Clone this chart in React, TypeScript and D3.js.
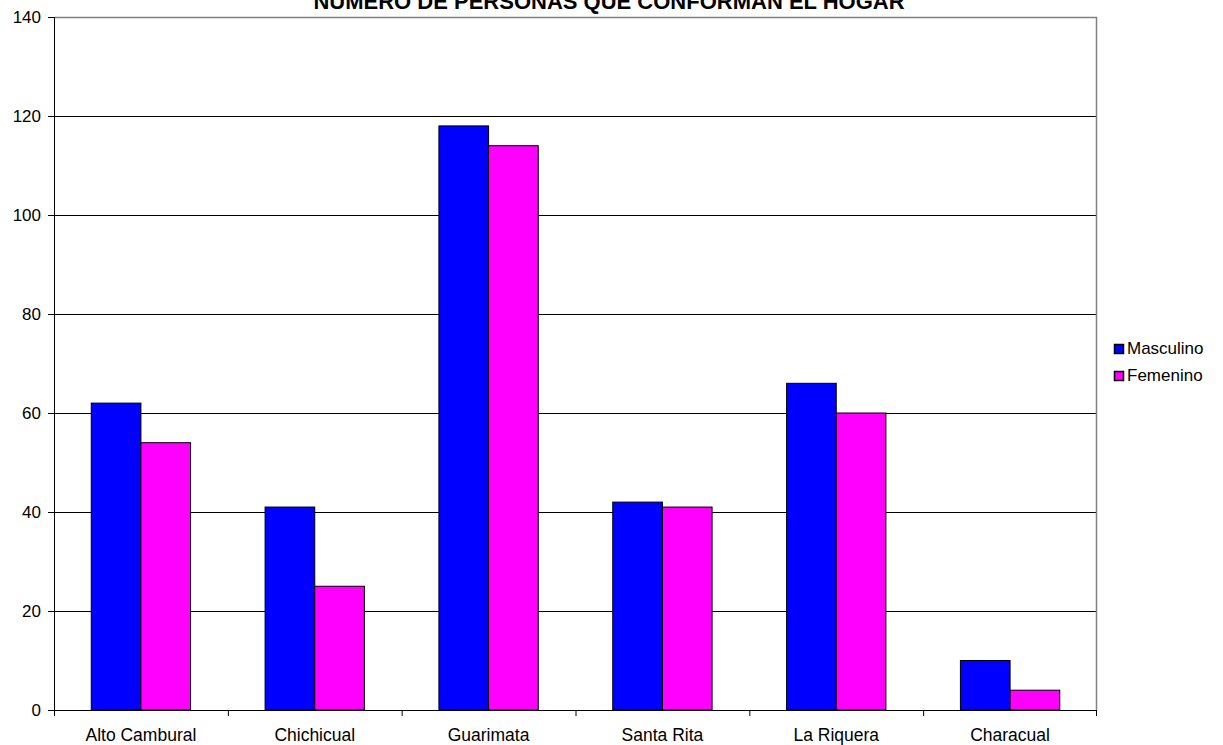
import React from "react";
import * as d3 from "d3";

const categories = ["Alto Cambural", "Chichicual", "Guarimata", "Santa Rita", "La Riquera", "Characual"];
const seriesNames = ["Masculino", "Femenino"];
const masculino = [62, 41, 118, 42, 66, 10];
const femenino = [54, 25, 114, 41, 60, 4];
const yTicks = [0, 20, 40, 60, 80, 100, 120, 140];
const colors = ["#0000FF", "#FF00FF"];
const title = "NUMERO DE PERSONAS QUE CONFORMAN EL HOGAR";

export default function App() {
  const W = 1223, H = 745;
  const left = 54, right = 1097, top = 17, bottom = 710;
  const x = d3.scaleBand<string>().domain(categories).range([left, right]).paddingInner(0).paddingOuter(0);
  const y = d3.scaleLinear().domain([0, 140]).range([bottom, top]);
  const bw = x.bandwidth() / 3.5;
  const x1 = d3.scaleBand<string>().domain(seriesNames).range([0.75 * bw, 2.75 * bw]);
  const series = [masculino, femenino];
  const font = "Arial, 'Liberation Sans', sans-serif";
  return (
    <svg width={W} height={H} style={{ position: "absolute", left: 0, top: 0 }} fontFamily={font}>
      <rect x={0} y={0} width={W} height={H} fill="#fff" />
      <text x={609} y={9} textAnchor="middle" fontSize={22} fontWeight="bold">{title}</text>
      {yTicks.slice(1, -1).map(t => (
        <line key={t} x1={left} x2={right} y1={y(t) + 0.5} y2={y(t) + 0.5} stroke="#000" strokeWidth={1} />
      ))}
      <line x1={left} x2={right} y1={top + 0.5} y2={top + 0.5} stroke="#808080" strokeWidth={1.5} />
      <line x1={right - 0.5} x2={right - 0.5} y1={top} y2={bottom} stroke="#808080" strokeWidth={1.5} />
      {categories.map((c, i) => series.map((s, j) => (
        <rect key={c + j} x={x(c)! + x1(seriesNames[j])!} y={y(s[i])} width={x1.bandwidth()} height={bottom - y(s[i])}
          fill={colors[j]} stroke="#000" strokeWidth={1} />
      )))}
      <line x1={left + 0.5} x2={left + 0.5} y1={top} y2={bottom} stroke="#000" strokeWidth={1} />
      <line x1={left} x2={right} y1={bottom + 0.5} y2={bottom + 0.5} stroke="#000" strokeWidth={1} />
      {yTicks.map(t => (
        <g key={t}>
          <line x1={left - 6} x2={left} y1={y(t) + 0.5} y2={y(t) + 0.5} stroke="#000" />
          <text x={41} y={y(t) + 6} textAnchor="end" fontSize={17}>{t}</text>
        </g>
      ))}
      {categories.map((c, i) => (
        <g key={c}>
          <line x1={x(c)! + 0.5} x2={x(c)! + 0.5} y1={bottom} y2={bottom + 6} stroke="#000" />
          <text x={x(c)! + x.bandwidth() / 2} y={741} textAnchor="middle" fontSize={17.5}>{c}</text>
        </g>
      ))}
      <line x1={right - 0.5} x2={right - 0.5} y1={bottom} y2={bottom + 6} stroke="#000" />
      {seriesNames.map((n, j) => (
        <g key={n}>
          <rect x={1114.5} y={344.5 + j * 27} width={9} height={9} fill={colors[j]} stroke="#000" strokeWidth={1.5} />
          <text x={1127} y={354 + j * 27} fontSize={17}>{n}</text>
        </g>
      ))}
    </svg>
  );
}
